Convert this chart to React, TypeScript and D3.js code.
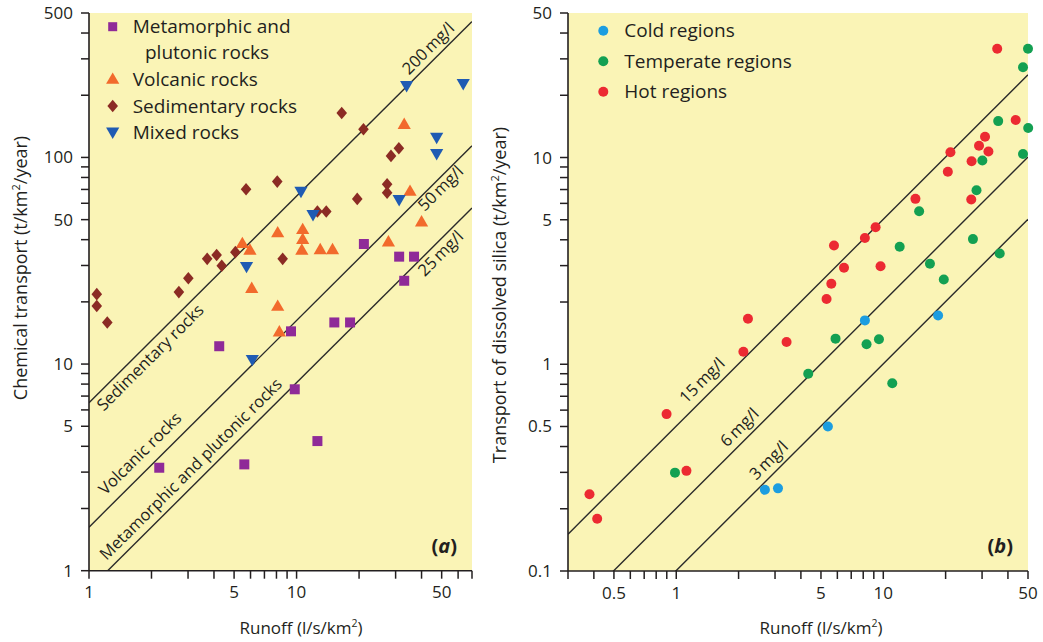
import React from "react";
import * as d3 from "d3";

// ---------- data ----------
const runoffLabelsA = [1, 5, 10, 50];
const transportLabelsA = [1, 5, 10, 50, 100, 500];
const runoffLabelsB = [0.5, 1, 5, 10, 50];
const silicaLabelsB = [0.1, 0.5, 1, 5, 10, 50];

// panel (a): [runoff l/s/km2, chemical transport t/km2/yr]
const metamorphic: [number, number][] = [
  [2.18, 3.15], [4.24, 12.2], [5.6, 3.27], [9.4, 14.4], [9.8, 7.55], [12.6, 4.24],
  [15.2, 15.9], [18.1, 15.9], [21.1, 38.1], [31.2, 33.1], [33.0, 25.3], [36.8, 33.1],
];
const volcanic: [number, number][] = [
  [5.48, 38.4], [5.96, 35.7], [6.08, 23.3], [8.11, 43.3], [8.11, 19.1], [8.26, 14.35],
  [10.7, 44.9], [10.7, 40.2], [10.6, 35.7], [13.0, 35.9], [14.9, 35.9], [27.7, 39.1],
  [33.0, 144.8], [35.2, 68.8], [40.0, 48.9],
];
const sedimentary: [number, number][] = [
  [1.09, 21.8], [1.09, 19.1], [1.225, 15.9], [2.71, 22.3], [3.01, 26], [3.71, 32.3],
  [4.12, 33.7], [4.36, 29.9], [5.07, 34.8], [5.71, 70.2], [8.07, 76.4], [8.57, 32.3],
  [12.6, 54.7], [13.9, 54.7], [16.5, 164], [19.6, 63], [21.0, 137], [27.3, 74.2],
  [27.3, 67.5], [28.5, 101.7], [31.1, 110.8],
];
const mixed: [number, number][] = [
  [5.74, 29.6], [6.12, 10.5], [10.5, 68.3], [12.0, 52.7], [31.2, 62.3], [33.9, 222],
  [47.3, 124.7], [47.3, 104], [63.5, 227],
];

// panel (b): [runoff l/s/km2, dissolved silica t/km2/yr]
const cold: [number, number][] = [
  [2.68, 0.247], [3.1, 0.251], [5.4, 0.5], [8.15, 1.63], [18.4, 1.72],
];
const temperate: [number, number][] = [
  [0.986, 0.299], [4.34, 0.9], [5.88, 1.33], [8.3, 1.25], [9.53, 1.32], [11.05, 0.81],
  [12.0, 3.7], [14.9, 5.5], [16.8, 3.06], [19.6, 2.57], [27.1, 4.03], [28.2, 6.94],
  [30.1, 9.67], [35.9, 15.0], [36.5, 3.43], [47.3, 27.3], [47.3, 10.4], [50, 33.6],
  [50.1, 13.9],
];
const hot: [number, number][] = [
  [0.381, 0.235], [0.415, 0.179], [0.898, 0.574], [1.12, 0.305], [2.11, 1.15],
  [2.22, 1.66], [3.41, 1.28], [5.32, 2.07], [5.61, 2.45], [5.78, 3.75], [6.46, 2.93],
  [8.15, 4.08], [9.18, 4.6], [9.7, 2.98], [14.3, 6.31], [20.5, 8.53], [21.1, 10.6],
  [26.6, 6.26], [26.7, 9.6], [29, 11.4], [31, 12.6], [32.2, 10.7], [35.5, 33.6],
  [43.6, 15.2],
];

// concentration lines (mg/l)
const concA = [200, 50, 25];
const concB = [15, 6, 3];
const factorA = 0.0325; // t/km2/yr per (l/s/km2 * mg/l)
const factorB = 0.0335;

// ---------- styles ----------
const FONT = "'Open Sans', 'Noto Sans', sans-serif";
const BG = "#faf4b6";
const INK = "#231f20";
const C = {
  meta: "#8f2a98",
  volc: "#f26a2c",
  sed: "#8b2b24",
  mixed: "#1f5bb3",
  cold: "#1c9de0",
  temp: "#13a052",
  hot: "#ec2a32",
};

const SHAPES: Record<string, string> = {
  square: "M-5,-5h10v10h-10Z",
  up: "M0,-6.6L6.6,4.8L-6.6,4.8Z",
  down: "M0,6.6L6.6,-4.8L-6.6,-4.8Z",
  diamond: "M0,-6.3L5.3,0L0,6.3L-5.3,0Z",
};

const fmt = (v: number) => String(v);

function Axes({ x, y, xLabels, yLabels, xTitleX, yTitle, yTitleX, yTitleY }: any) {
  const [x0, x1] = x.range();
  const [y0, y1] = y.range();
  return (
    <g fontFamily={FONT} fill={INK}>
      <line x1={x0} x2={x1} y1={y0} y2={y0} stroke={INK} strokeWidth={1.6} />
      <line x1={x0} x2={x0} y1={y0} y2={y1} stroke={INK} strokeWidth={1.6} />
      {x.ticks().map((t: number, i: number) => (
        <line key={"xt" + i} x1={x(t)} x2={x(t)} y1={y0} y2={y0 + 8} stroke={INK} strokeWidth={1.5} />
      ))}
      {y.ticks().map((t: number, i: number) => (
        <line key={"yt" + i} x1={x0 - 8} x2={x0} y1={y(t)} y2={y(t)} stroke={INK} strokeWidth={1.5} />
      ))}
      {xLabels.map((t: number) => (
        <text key={"xl" + t} x={x(t)} y={y0 + 27.5} fontSize={17} textAnchor="middle">{fmt(t)}</text>
      ))}
      {yLabels.map((t: number) => (
        <text key={"yl" + t} x={x0 - 16} y={y(t) + 6} fontSize={17} textAnchor="end">{fmt(t)}</text>
      ))}
      <text x={xTitleX} y={634} fontSize={17} textAnchor="middle">
        Runoff (l/s/km<tspan fontSize={10.5} dy={-7}>2</tspan><tspan dy={7}>)</tspan>
      </text>
      <text transform={`translate(${yTitleX},${yTitleY}) rotate(-90)`} fontSize={18} textAnchor="middle">
        {yTitle} (t/km<tspan fontSize={11} dy={-7.5}>2</tspan><tspan dy={7.5}>/year)</tspan>
      </text>
    </g>
  );
}

function IsoLines({ x, y, conc, factor, id }: any) {
  const [r0, r1] = x.domain();
  return (
    <g clipPath={`url(#${id})`}>
      {conc.map((c: number) => {
        const pts = [r0, r1];
        const d = d3
          .line<number>()
          .x((r) => x(r))
          .y((r) => y(factor * c * r))(pts);
        return <path key={c} d={d || ""} stroke="#2a2a2a" strokeWidth={1.4} fill="none" />;
      })}
    </g>
  );
}

function LineLabel({ x, y, factor, c, at, dy, text, size = 16.5 }: any) {
  const [r0, r1] = x.domain();
  const ang =
    (Math.atan2(y(factor * c * r1) - y(factor * c * r0), x(r1) - x(r0)) * 180) / Math.PI;
  const px = x(at);
  const py = y(factor * c * at) + dy;
  return (
    <text
      transform={`translate(${px},${py}) rotate(${ang})`}
      textAnchor="middle"
      dy="0.35em"
      fontSize={size}
      fontFamily={FONT}
      fill={INK}
    >
      {text}
    </text>
  );
}

export default function App() {
  const xA = d3.scaleLog().domain([1, 70]).range([89, 472]);
  const yA = d3.scaleLog().domain([1, 500]).range([570.7, 13]);
  const xB = d3.scaleLog().domain([0.3, 50]).range([568, 1028]);
  const yB = d3.scaleLog().domain([0.1, 50]).range([571, 13]);

  const seriesA = [
    { data: metamorphic, shape: "square", color: C.meta },
    { data: volcanic, shape: "up", color: C.volc },
    { data: sedimentary, shape: "diamond", color: C.sed },
    { data: mixed, shape: "down", color: C.mixed },
  ];
  const seriesB = [
    { data: cold, color: C.cold },
    { data: temperate, color: C.temp },
    { data: hot, color: C.hot },
  ];

  const thin = "\u2009";

  return (
    <svg
      width={1043}
      height={642}
      style={{ position: "absolute", left: 0, top: 0, background: "#fff" }}
    >
      <defs>
        <clipPath id="clipA">
          <rect x={89} y={13} width={472 - 89} height={570.7 - 13} />
        </clipPath>
        <clipPath id="clipB">
          <rect x={568} y={13} width={1028 - 568} height={571 - 13} />
        </clipPath>
      </defs>

      {/* backgrounds */}
      <rect x={89} y={13} width={472 - 89} height={570.7 - 13} fill={BG} />
      <rect x={568} y={13} width={1028 - 568} height={571 - 13} fill={BG} />

      {/* ---------- panel a ---------- */}
      <IsoLines x={xA} y={yA} conc={concA} factor={factorA} id="clipA" />
      <LineLabel x={xA} y={yA} factor={factorA} c={200} at={1.97} dy={15.5} text="Sedimentary rocks" />
      <LineLabel x={xA} y={yA} factor={factorA} c={50} at={1.76} dy={-23} text="Volcanic rocks" />
      <LineLabel x={xA} y={yA} factor={factorA} c={25} at={3.09} dy={-19} text="Metamorphic and plutonic rocks" />
      <LineLabel x={xA} y={yA} factor={factorA} c={200} at={43} dy={-17} text={`200${thin}mg/l`} />
      <LineLabel x={xA} y={yA} factor={factorA} c={50} at={49.4} dy={11} text={`50${thin}mg/l`} />
      <LineLabel x={xA} y={yA} factor={factorA} c={25} at={49.4} dy={14} text={`25${thin}mg/l`} />

      {seriesA.map((s, si) => (
        <g key={si} fill={s.color}>
          {s.data.map((d, i) => (
            <path key={i} d={SHAPES[s.shape]} transform={`translate(${xA(d[0])},${yA(d[1])})`} />
          ))}
        </g>
      ))}

      <Axes
        x={xA}
        y={yA}
        xLabels={runoffLabelsA}
        yLabels={transportLabelsA}
        xTitleX={301}
        yTitle="Chemical transport"
        yTitleX={27}
        yTitleY={268}
      />

      {/* legend a */}
      <g fontFamily={FONT} fontSize={19} fill={INK}>
        <path d={SHAPES.square} transform="translate(112.7,26.7) scale(0.9)" fill={C.meta} />
        <text x={132.7} y={26.7} dy="0.35em">Metamorphic and</text>
        <text x={145} y={52.7} dy="0.35em">plutonic rocks</text>
        <path d={SHAPES.up} transform="translate(112.7,79)" fill={C.volc} />
        <text x={132.7} y={79} dy="0.35em">Volcanic rocks</text>
        <path d={SHAPES.diamond} transform="translate(112.7,106)" fill={C.sed} />
        <text x={132.7} y={106} dy="0.35em">Sedimentary rocks</text>
        <path d={SHAPES.down} transform="translate(112.7,132.3)" fill={C.mixed} />
        <text x={132.7} y={132.3} dy="0.35em">Mixed rocks</text>
      </g>

      <text x={457} y={553} textAnchor="end" fontFamily={FONT} fontSize={20} fontWeight="bold" fill={INK}>
        (<tspan fontStyle="italic">a</tspan>)
      </text>

      {/* ---------- panel b ---------- */}
      <IsoLines x={xB} y={yB} conc={concB} factor={factorB} id="clipB" />
      <LineLabel x={xB} y={yB} factor={factorB} c={15} at={1.331} dy={-20} text={`15${thin}mg/l`} />
      <LineLabel x={xB} y={yB} factor={factorB} c={6} at={2.02} dy={-18} text={`6${thin}mg/l`} />
      <LineLabel x={xB} y={yB} factor={factorB} c={3} at={2.795} dy={-18} text={`3${thin}mg/l`} />

      {seriesB.map((s, si) => (
        <g key={si} fill={s.color}>
          {s.data.map((d, i) => (
            <circle key={i} cx={xB(d[0])} cy={yB(d[1])} r={5} />
          ))}
        </g>
      ))}

      <Axes
        x={xB}
        y={yB}
        xLabels={runoffLabelsB}
        yLabels={silicaLabelsB}
        xTitleX={821}
        yTitle="Transport of dissolved silica"
        yTitleX={506}
        yTitleY={295}
      />

      {/* legend b */}
      <g fontFamily={FONT} fontSize={19} fill={INK}>
        <circle cx={603.3} cy={30.7} r={5} fill={C.cold} />
        <text x={624.3} y={30.7} dy="0.35em">Cold regions</text>
        <circle cx={603.3} cy={61.2} r={5} fill={C.temp} />
        <text x={624.3} y={61.2} dy="0.35em">Temperate regions</text>
        <circle cx={603.3} cy={91.7} r={5} fill={C.hot} />
        <text x={624.3} y={91.7} dy="0.35em">Hot regions</text>
      </g>

      <text x={1013} y={553} textAnchor="end" fontFamily={FONT} fontSize={20} fontWeight="bold" fill={INK}>
        (<tspan fontStyle="italic">b</tspan>)
      </text>
    </svg>
  );
}
